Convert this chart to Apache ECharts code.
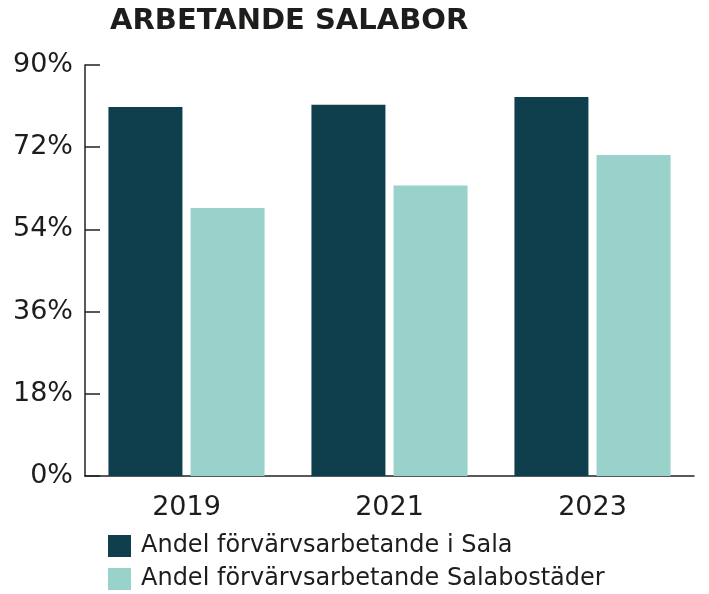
<!DOCTYPE html>
<html><head><meta charset="utf-8">
<script src="https://cdn.jsdelivr.net/npm/echarts@6/dist/echarts.min.js"></script>
<style>html,body{margin:0;padding:0;background:#fff}#c{width:709px;height:594px}</style>
</head><body><div id="c"></div>
<script>
var titleText = 'ARBETANDE SALABOR';
var categories = ['2019', '2021', '2023'];
var seriesNames = ['Andel förvärvsarbetande i Sala', 'Andel förvärvsarbetande Salabostäder'];
var salaValues = [80.8, 81.3, 83.0];
var bostaderValues = [58.7, 63.6, 70.3];
var yTicks = [0, 18, 36, 54, 72, 90];

var chart = echarts.init(document.getElementById('c'), null, {renderer: 'canvas'});
var textColor = '#1d1d1b';
function legendFor(name, top) {
  return {
    orient: 'horizontal', left: 103, top: top, padding: 5,
    itemWidth: 23, itemHeight: 22, itemGap: 10,
    icon: 'rect',
    textStyle: {fontFamily: 'DejaVu Sans', fontSize: 24, color: textColor, padding: [0,0,0,5]},
    data: [name]
  };
}
chart.setOption({
  animation: false,
  backgroundColor: '#ffffff',
  title: {
    text: titleText, left: 105, top: 2,
    textStyle: {fontFamily: 'DejaVu Sans', fontWeight: 'bold', fontSize: 29, color: '#1d1d1b'}
  },
  legend: [legendFor(seriesNames[0], 529), legendFor(seriesNames[1], 562)],
  grid: {left: 85, top: 65, right: 15, bottom: 118, containLabel: false},
  xAxis: {
    type: 'category', data: categories,
    axisLine: {lineStyle: {color: '#222', width: 1.5}},
    axisTick: {inside: true, length: 9, lineStyle: {color: '#222', width: 1.5}},
    axisLabel: {fontFamily: 'DejaVu Sans', fontSize: 27, color: textColor, margin: 18}
  },
  yAxis: {
    type: 'value', min: yTicks[0], max: yTicks[yTicks.length-1], interval: 18,
    axisLine: {show: true, lineStyle: {color: '#222', width: 1.5}},
    axisTick: {show: true, inside: true, length: 15, lineStyle: {color: '#222', width: 1.5}},
    splitLine: {show: false},
    axisLabel: {fontFamily: 'DejaVu Sans', fontSize: 27, color: textColor, margin: 12,
      formatter: function(v){ return v + '%'; }}
  },
  series: [
    {name: seriesNames[0], type: 'bar', data: salaValues, barWidth: 74, barGap: '11%',
     itemStyle: {color: '#0f3e4d'}},
    {name: seriesNames[1], type: 'bar', data: bostaderValues, barWidth: 74, barGap: '11%',
     itemStyle: {color: '#98d2cb'}}
  ]
});
</script></body></html>
